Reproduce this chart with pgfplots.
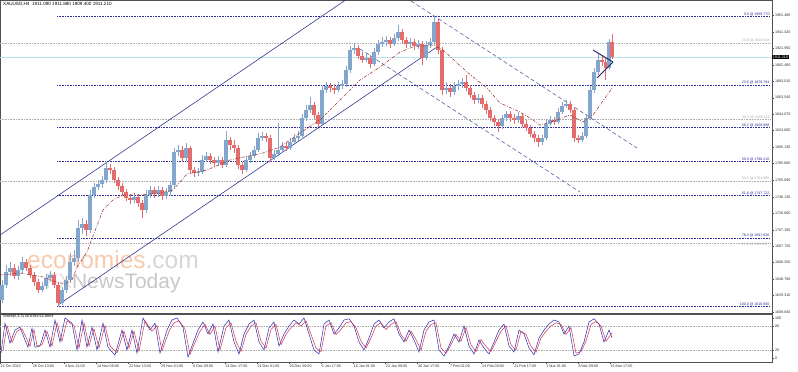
\documentclass[border=0pt]{standalone}
\usepackage{pgfplots}
\usepackage{pgfplotstable}
\pgfplotsset{compat=1.18}
\usepackage{fontspec}
\setmainfont{Liberation Sans}
\setsansfont{Liberation Sans}
\definecolor{upc}{HTML}{82A6CC}
\definecolor{dnc}{HTML}{E46C6C}
\definecolor{chan}{HTML}{2B2B8C}
\definecolor{fibb}{HTML}{2F2F9A}
\definecolor{fibg}{HTML}{AFAFAF}
\definecolor{mac}{HTML}{A0302A}
\definecolor{cur}{HTML}{B8E4EC}
\definecolor{frame}{HTML}{505050}
\definecolor{wmor}{HTML}{F8CAAE}
\definecolor{wmg}{HTML}{D6D6D6}
\definecolor{wmg2}{HTML}{C8C8C8}
\definecolor{wmf}{HTML}{E2E2E2}
\definecolor{stk}{HTML}{2A2AB0}
\definecolor{std}{HTML}{D03050}

\pgfplotstableread{
x o h l c
2 1624.0 1647.7 1620.5 1641.8
6 1641.8 1665.5 1638.2 1657.2
10 1657.2 1669.0 1652.5 1661.9
14 1661.9 1666.7 1648.9 1652.5
18 1652.5 1664.3 1647.7 1659.6
22 1659.6 1674.9 1656.0 1669.0
26 1669.0 1672.6 1658.4 1661.9
30 1661.9 1665.5 1650.1 1653.6
34 1653.6 1657.2 1640.6 1645.3
38 1645.3 1648.9 1632.3 1635.9
42 1635.9 1645.3 1633.5 1640.6
46 1640.6 1654.8 1637.1 1650.1
50 1650.1 1658.4 1646.5 1653.6
54 1653.6 1657.2 1638.2 1641.8
58 1641.8 1645.3 1616.7 1620.5
62 1620.5 1639.4 1618.1 1635.9
66 1635.9 1652.5 1632.3 1647.7
70 1647.7 1679.7 1644.2 1669.0
74 1669.0 1683.2 1664.3 1673.8
78 1673.8 1718.7 1669.0 1709.3
82 1709.3 1721.1 1702.2 1714.0
86 1714.0 1718.7 1699.8 1706.9
90 1706.9 1754.3 1703.4 1748.4
94 1748.4 1762.6 1744.8 1757.8
98 1757.8 1766.1 1754.3 1761.4
102 1761.4 1770.8 1756.6 1766.1
106 1766.1 1787.4 1762.6 1780.3
110 1780.3 1785.1 1773.2 1778.0
114 1778.0 1781.5 1762.6 1766.1
118 1766.1 1769.7 1754.3 1759.0
122 1759.0 1762.6 1747.2 1751.9
126 1751.9 1755.5 1741.2 1744.8
130 1744.8 1749.5 1737.7 1742.4
134 1742.4 1750.7 1738.9 1746.0
138 1746.0 1749.5 1734.1 1738.9
142 1738.9 1742.4 1721.1 1730.6
146 1730.6 1754.3 1727.0 1748.4
150 1748.4 1759.0 1744.8 1754.3
154 1754.3 1757.8 1744.8 1749.5
158 1749.5 1759.0 1746.0 1754.3
162 1754.3 1757.8 1742.4 1747.2
166 1747.2 1756.6 1743.6 1751.9
170 1751.9 1764.9 1748.4 1760.2
174 1760.2 1804.0 1756.6 1799.3
178 1799.3 1807.6 1794.5 1801.6
182 1801.6 1806.4 1787.4 1792.2
186 1792.2 1809.9 1788.6 1804.0
190 1804.0 1806.4 1774.4 1778.0
194 1778.0 1781.5 1769.7 1774.4
198 1774.4 1780.3 1770.8 1775.6
202 1775.6 1795.7 1773.2 1789.8
206 1789.8 1799.3 1787.4 1794.5
210 1794.5 1798.1 1785.1 1789.8
214 1789.8 1793.3 1781.5 1786.3
218 1786.3 1794.5 1782.7 1789.8
222 1789.8 1793.3 1780.3 1783.9
226 1783.9 1824.1 1781.5 1813.5
230 1813.5 1817.0 1801.6 1807.6
234 1807.6 1813.5 1798.1 1804.0
238 1804.0 1807.6 1779.1 1783.9
242 1783.9 1787.4 1773.2 1778.0
246 1778.0 1793.3 1775.6 1789.8
250 1789.8 1799.3 1786.3 1794.5
254 1794.5 1806.4 1792.2 1801.6
258 1801.6 1821.8 1799.3 1815.8
262 1815.8 1823.0 1812.3 1818.2
266 1818.2 1821.8 1811.1 1815.8
270 1815.8 1819.4 1787.4 1792.2
274 1792.2 1801.6 1789.8 1796.9
278 1796.9 1833.6 1794.5 1801.6
282 1801.6 1811.1 1798.1 1806.4
286 1806.4 1811.1 1800.5 1804.0
290 1804.0 1815.8 1801.6 1811.1
294 1811.1 1820.6 1807.6 1815.8
298 1815.8 1824.1 1812.3 1818.2
302 1818.2 1844.3 1814.7 1839.5
306 1839.5 1854.9 1836.0 1849.0
310 1849.0 1864.4 1845.4 1854.9
314 1854.9 1858.5 1838.3 1843.1
318 1843.1 1846.6 1828.9 1832.4
322 1832.4 1877.4 1830.1 1872.7
326 1872.7 1882.2 1869.1 1877.4
330 1877.4 1881.0 1870.3 1875.0
334 1875.0 1879.8 1867.9 1872.7
338 1872.7 1882.2 1870.3 1877.4
342 1877.4 1884.5 1873.9 1879.8
346 1879.8 1901.1 1876.2 1896.4
350 1896.4 1924.8 1892.8 1920.0
354 1920.0 1928.3 1915.3 1922.4
358 1922.4 1925.9 1909.4 1912.9
362 1912.9 1917.7 1904.6 1908.2
366 1908.2 1915.3 1905.8 1910.6
370 1910.6 1914.1 1898.7 1903.5
374 1903.5 1922.4 1901.1 1917.7
378 1917.7 1931.9 1914.1 1927.1
382 1927.1 1935.4 1923.6 1929.5
386 1929.5 1936.6 1924.8 1931.9
390 1931.9 1935.4 1922.4 1927.1
394 1927.1 1939.0 1924.8 1934.2
398 1934.2 1949.6 1930.7 1941.3
402 1941.3 1944.9 1928.3 1931.9
406 1931.9 1935.4 1922.4 1927.1
410 1927.1 1934.2 1923.6 1929.5
414 1929.5 1933.1 1920.0 1924.8
418 1924.8 1931.9 1921.2 1927.1
422 1927.1 1930.7 1902.3 1910.6
426 1910.6 1930.7 1908.2 1925.9
430 1925.9 1934.2 1922.4 1929.5
434 1929.5 1959.8 1925.9 1953.2
438 1953.2 1956.7 1915.3 1920.0
442 1920.0 1923.6 1866.8 1872.7
446 1872.7 1882.2 1867.9 1875.0
450 1875.0 1879.8 1864.4 1870.3
454 1870.3 1882.2 1866.8 1877.4
458 1877.4 1884.5 1872.7 1879.8
462 1879.8 1886.9 1875.0 1882.2
466 1882.2 1890.4 1871.5 1875.0
470 1875.0 1878.6 1863.2 1866.8
474 1866.8 1870.3 1856.1 1860.8
478 1860.8 1867.9 1857.3 1863.2
482 1863.2 1866.8 1851.4 1856.1
486 1856.1 1859.7 1844.3 1849.0
490 1849.0 1852.6 1836.0 1839.5
494 1839.5 1843.1 1830.1 1834.8
498 1834.8 1838.3 1823.0 1830.1
502 1830.1 1843.1 1826.5 1839.5
506 1839.5 1847.8 1836.0 1844.3
510 1844.3 1847.8 1834.8 1839.5
514 1839.5 1844.3 1832.4 1837.2
518 1837.2 1846.6 1833.6 1841.9
522 1841.9 1845.4 1828.9 1832.4
526 1832.4 1837.2 1824.1 1827.7
530 1827.7 1831.2 1817.0 1820.6
534 1820.6 1824.1 1811.1 1815.8
538 1815.8 1819.4 1805.2 1811.1
542 1811.1 1819.4 1807.6 1815.8
546 1815.8 1837.2 1813.5 1832.4
550 1832.4 1841.9 1830.1 1837.2
554 1837.2 1840.7 1831.2 1834.8
558 1834.8 1851.4 1832.4 1846.6
562 1846.6 1858.5 1844.3 1853.7
566 1853.7 1860.8 1851.4 1856.1
570 1856.1 1859.7 1845.4 1849.0
574 1849.0 1852.6 1811.1 1815.8
578 1815.8 1819.4 1809.9 1813.5
582 1813.5 1823.0 1811.1 1818.2
586 1818.2 1844.3 1815.8 1839.5
590 1839.5 1877.4 1837.2 1872.7
594 1872.7 1898.7 1869.1 1894.0
598 1894.0 1915.3 1890.4 1908.2
602 1908.2 1912.9 1901.1 1905.8
605.5 1905.8 1910.6 1884.5 1898.7
609 1898.7 1933.0 1896.4 1930.0
612 1930.0 1939.0 1909.4 1911.2
}\candles

\begin{document}
\begin{tikzpicture}[x=1pt,y=1pt]
\useasboundingbox (0,0) rectangle (798,-372);
\fill[white] (0,0) rectangle (798,-372);
% watermark
\node[anchor=base west, inner sep=0, font=\fontsize{24.5}{25}\selectfont, text=wmor] at (27,-268) {economies\textcolor{wmg}{.com}};
\node[anchor=base west, inner sep=0, font=\fontsize{21}{22}\selectfont] at (45,-288) {\textcolor{wmf}{FX}\textcolor{wmg2}{NewsToday}};

\begin{axis}[at={(0pt,0pt)}, anchor=north west, width=772pt, height=313pt, scale only axis,
  xmin=0, xmax=772, ymin=1608.65, ymax=1979.24,
  axis line style={draw=frame, line width=0.7pt},
  xtick=\empty,
  ytick={1609.84,1629.31,1648.78,1668.25,1687.72,1707.19,1726.66,1746.13,1765.69,1785.66,1805.13,1824.60,1844.07,1863.54,1883.01,1902.48,1921.95,1941.42,1961.48},
  ytick pos=right, yticklabel pos=right, tick align=outside, major tick length=2pt,
  tick style={draw=frame, line width=0.4pt},
  yticklabel style={font=\fontsize{3.7}{4}\selectfont, inner sep=0.5pt, xshift=0.3pt, text=black!80},
  /pgf/number format/fixed, /pgf/number format/fixed zerofill, /pgf/number format/precision=3,
  /pgf/number format/1000 sep={}, /pgf/number format/assume math mode=true,
  clip mode=individual]

% current price line
\addplot[cur, line width=0.5pt] coordinates {(0,1911.21) (772,1911.21)};
% grey fib levels
\addplot[fibg, line width=0.5pt, dash pattern=on 0.8pt off 0.8pt] coordinates {(0,1928.618) (770,1928.618)};
\addplot[fibg, line width=0.5pt, dash pattern=on 0.8pt off 0.8pt] coordinates {(0,1838.113) (770,1838.113)};
\addplot[fibg, line width=0.5pt, dash pattern=on 0.8pt off 0.8pt] coordinates {(0,1764.965) (770,1764.965)};
\addplot[fibg, line width=0.5pt, dash pattern=on 0.8pt off 0.8pt] coordinates {(0,1691.817) (770,1691.817)};
% blue fib levels
\addplot[fibb, line width=0.55pt, dash pattern=on 0.8pt off 0.8pt] coordinates {(57,1959.77) (770,1959.77)};
\addplot[fibb, line width=0.55pt, dash pattern=on 0.8pt off 0.8pt] coordinates {(57,1878.794) (770,1878.794)};
\addplot[fibb, line width=0.55pt, dash pattern=on 0.8pt off 0.8pt] coordinates {(57,1828.698) (770,1828.698)};
\addplot[fibb, line width=0.55pt, dash pattern=on 0.8pt off 0.8pt] coordinates {(57,1788.21) (770,1788.21)};
\addplot[fibb, line width=0.55pt, dash pattern=on 0.8pt off 0.8pt] coordinates {(57,1747.722) (770,1747.722)};
\addplot[fibb, line width=0.55pt, dash pattern=on 0.8pt off 0.8pt] coordinates {(57,1697.626) (770,1697.626)};
\addplot[fibb, line width=0.55pt, dash pattern=on 0.8pt off 0.8pt] coordinates {(57,1616.65) (770,1616.65)};

% channels
\addplot[chan, line width=0.55pt] coordinates {(0,1701.0) (360,1990.8)};
\addplot[chan, line width=0.55pt] coordinates {(58,1618.1) (437,1923.6)};
\addplot[chan!80, line width=0.55pt, dash pattern=on 4pt off 2.5pt] coordinates {(411,1978.1) (637,1804.0)};
\addplot[chan!80, line width=0.55pt, dash pattern=on 4pt off 2.5pt] coordinates {(360,1921.2) (580,1751.9)};

% candles
\addplot[upc, line width=0.55pt, quiver={u=0,v=\thisrow{h}-\thisrow{l}}, restrict expr to domain={\thisrow{c}-\thisrow{o}}{0:10000}] table[x=x,y=l] {\candles};
\addplot[dnc, line width=0.55pt, quiver={u=0,v=\thisrow{h}-\thisrow{l}}, restrict expr to domain={\thisrow{c}-\thisrow{o}}{-10000:0}] table[x=x,y=l] {\candles};
\addplot[upc, line width=3.1pt, quiver={u=0,v=\thisrow{c}-\thisrow{o}}, restrict expr to domain={\thisrow{c}-\thisrow{o}}{0:10000}] table[x=x,y=o] {\candles};
\addplot[dnc, line width=3.1pt, quiver={u=0,v=\thisrow{c}-\thisrow{o}}, restrict expr to domain={\thisrow{c}-\thisrow{o}}{-10000:0}] table[x=x,y=o] {\candles};

% moving average
\addplot[mac, line width=0.55pt, dash pattern=on 3pt off 1.5pt on 0.8pt off 1.5pt] coordinates {
(0,1653.6) (20,1656.0) (43,1651.3) (57,1645.3) (65,1643.0) (72,1647.7) (77,1663.1) (87,1680.9)
(93,1699.8) (103,1730.6) (113,1742.4) (123,1748.4) (140,1748.4) (160,1750.7) (173,1754.3)
(187,1773.2) (197,1775.6) (207,1778.0) (230,1789.8) (263,1798.1) (280,1805.2) (300,1821.8)
(320,1837.2) (347,1869.1) (360,1884.5) (380,1899.9) (400,1917.7) (413,1923.6) (433,1925.9)
(443,1920.0) (467,1894.0) (487,1875.0) (500,1857.3) (520,1846.6) (533,1837.2) (540,1831.2)
(557,1837.2) (570,1843.1) (583,1834.8) (593,1843.1) (600,1854.9) (612,1875.0)};

% pennant
\addplot[chan!70!black, line width=0.9pt] coordinates {(593,1920.0) (613,1905.8)};
\addplot[chan!70!black, line width=0.9pt] coordinates {(597,1886.9) (613,1905.8)};

% fib labels
\begin{scope}[every node/.style={anchor=south east, inner sep=0.3pt, font=\fontsize{3.6}{4}\selectfont}]
\node[text=fibb] at (axis cs:770,1959.77) {0.0 @ 1959.770};
\node[text=fibb] at (axis cs:770,1878.794) {23.6 @ 1878.794};
\node[text=fibb] at (axis cs:770,1828.698) {38.2 @ 1828.698};
\node[text=fibb] at (axis cs:770,1788.21) {50.0 @ 1788.210};
\node[text=fibb] at (axis cs:770,1747.722) {61.8 @ 1747.722};
\node[text=fibb] at (axis cs:770,1697.626) {76.4 @ 1697.626};
\node[text=fibb] at (axis cs:770,1616.65) {100.0 @ 1616.650};
\node[text=fibg] at (axis cs:770,1928.618) {23.6 @ 1928.618};
\node[text=fibg] at (axis cs:770,1838.113) {38.2 @ 1838.113};
\node[text=fibg] at (axis cs:770,1764.965) {50.0 @ 1764.965};
\node[text=fibg, anchor=north east] at (axis cs:770,1691.817) {61.8 @ 1691.817};
\end{scope}
\node[anchor=west, fill=black, text=white, inner sep=0.7pt, font=\fontsize{3.7}{4}\selectfont] at (axis cs:772,1911.21) {1911.210};
\node[anchor=north west, inner sep=0pt, font=\fontsize{4.6}{5}\selectfont] at (axis cs:3,1977) {XAUUSD,H4\ \ 1911.090 1911.880 1909.400 1911.210};
\end{axis}

\begin{axis}[at={(0pt,-314pt)}, anchor=north west, width=772pt, height=48pt, scale only axis,
  xmin=0, xmax=772, ymin=-10, ymax=110,
  axis line style={draw=frame, line width=0.7pt},
  ytick={0,20,80,100}, ytick pos=right, yticklabel pos=right,
  xtick={0,32.1,64.2,96.3,128.4,160.5,192.6,224.7,256.8,288.9,321,353.1,385.2,417.3,449.4,481.5,513.6,545.7,577.8,609.9},
  xticklabels={21 Oct 2022,28 Oct 13:00,4 Nov 21:00,14 Nov 05:00,21 Nov 13:00,29 Nov 01:00,6 Dec 09:00,13 Dec 17:00,21 Dec 01:00,29 Dec 09:00,6 Jan 17:00,16 Jan 01:00,23 Jan 09:00,30 Jan 17:00,7 Feb 01:00,14 Feb 09:00,21 Feb 17:00,1 Mar 01:00,8 Mar 09:00,15 Mar 17:00},
  xtick pos=bottom, tick align=outside, major tick length=2pt,
  tick style={draw=frame, line width=0.4pt},
  xticklabel style={anchor=north west, font=\fontsize{3.7}{4}\selectfont, inner sep=0.3pt, xshift=0.2pt, yshift=-0.5pt, text=black!80},
  yticklabel style={font=\fontsize{3.7}{4}\selectfont, inner sep=0.5pt, xshift=0.3pt, text=black!80},
  /pgf/number format/assume math mode=true,
  clip mode=individual]
\addplot[fibg, line width=0.5pt, dash pattern=on 0.8pt off 0.8pt] coordinates {(0,80) (772,80)};
\addplot[fibg, line width=0.5pt, dash pattern=on 0.8pt off 0.8pt] coordinates {(0,20) (772,20)};
\addplot[stk, line width=0.5pt] coordinates {
(1,12) (5,87) (10,37) (15,70) (20,77) (25,45) (28,27) (32,75) (35,27) (40,30) (45,70) (50,27) (55,95) (60,40)
(65,100) (72,87) (77,20) (82,95) (87,27) (92,77) (97,20) (103,87) (108,27) (115,7) (122,70) (127,20) (132,70)
(137,12) (143,100) (150,70) (155,87) (160,12) (167,70) (172,95) (177,100) (183,77) (188,2) (193,37) (198,70)
(203,90) (208,60) (213,85) (218,15) (224,80) (229,95) (234,40) (239,10) (244,60) (249,85) (254,95) (259,40)
(264,20) (269,75) (274,90) (279,30) (284,60) (289,80) (294,95) (299,85) (304,100) (309,60) (314,20) (319,10)
(324,85) (329,95) (334,60) (339,75) (344,95) (349,98) (354,80) (359,40) (364,20) (369,50) (374,85) (379,95)
(384,75) (389,90) (394,98) (399,60) (404,40) (409,70) (414,45) (419,15) (424,70) (429,90) (434,95) (439,20)
(444,5) (449,30) (454,60) (459,40) (464,80) (469,30) (474,10) (479,45) (484,25) (489,10) (494,40) (499,70)
(504,85) (509,30) (514,15) (519,70) (524,60) (529,25) (534,8) (539,50) (544,70) (549,85) (554,95) (559,90)
(564,60) (569,80) (574,5) (579,10) (584,40) (589,90) (594,98) (599,85) (604,40) (609,70) (612,50.6)};
\addplot[std, line width=0.5pt] coordinates {
(3,18) (7,81) (12,39) (17,67) (22,73) (27,46) (30,30) (34,71) (37,30) (42,33) (47,67) (52,30) (57,88) (62,42)
(67,93) (74,81) (79,25) (84,88) (89,30) (94,73) (99,25) (105,81) (110,30) (117,13) (124,67) (129,25) (134,67)
(139,18) (145,93) (152,67) (157,81) (162,18) (169,67) (174,88) (179,93) (185,73) (190,9) (195,39) (200,67)
(205,84) (210,59) (215,80) (220,20) (226,76) (231,88) (236,42) (241,16) (246,59) (251,80) (256,88) (261,42)
(266,25) (271,71) (276,84) (281,33) (286,59) (291,76) (296,88) (301,80) (306,93) (311,59) (316,25) (321,16)
(326,80) (331,88) (336,59) (341,71) (346,88) (351,91) (356,76) (361,42) (366,25) (371,50) (376,80) (381,88)
(386,71) (391,84) (396,91) (401,59) (406,42) (411,67) (416,46) (421,20) (426,67) (431,84) (436,88) (441,25)
(446,12) (451,33) (456,59) (461,42) (466,76) (471,33) (476,16) (481,46) (486,29) (491,16) (496,42) (501,67)
(506,80) (511,33) (516,20) (521,67) (526,59) (531,29) (536,14) (541,50) (546,67) (551,80) (556,88) (561,84)
(566,59) (571,76) (576,12) (581,16) (586,42) (591,84) (596,91) (601,80) (606,42) (612,62.9)};
\node[anchor=north west, inner sep=0pt, font=\fontsize{3.8}{4}\selectfont] at (axis cs:3,108) {Stoch(5,3,3) 50.6394 62.8859};
\end{axis}
\end{tikzpicture}
\end{document}
